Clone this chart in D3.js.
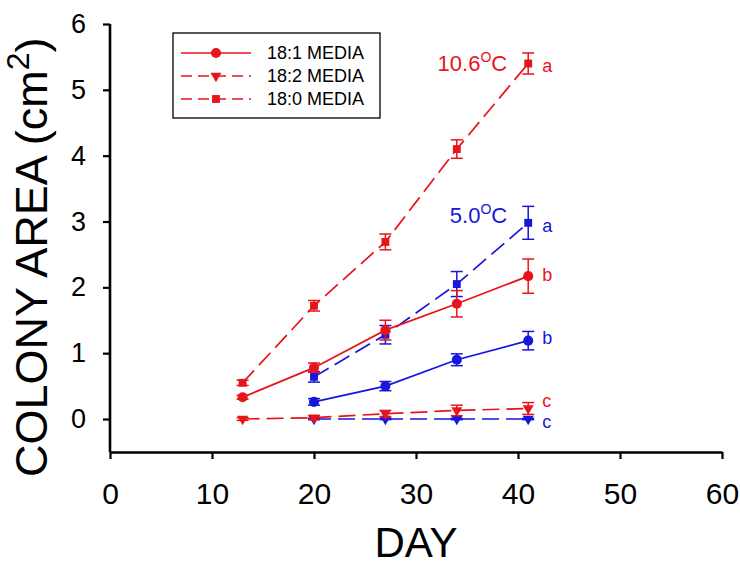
<!DOCTYPE html>
<html lang="en">
<head>
<meta charset="UTF-8">
<title>Colony area</title>
<script src="https://d3js.org/d3.v7.min.js"></script>
<style>
body {
  margin: 0;
  background: white;
}
svg {
  display: block;
  font-family: "Liberation Sans", Arial, sans-serif;
}
</style>
</head>
<body>
<svg></svg>
<script>
// day of measurement
const hotDays = [13, 20, 27, 34, 41];
const coldDays = [20, 27, 34, 41];

// 10.6 C colonies (mean, error)
const hot18_1 = [0.33, 0.78, 1.35, 1.75, 2.17];
const hot18_1Err = [0.03, 0.07, 0.15, 0.20, 0.26];
const hot18_2 = [0.00, 0.02, 0.08, 0.13, 0.16];
const hot18_2Err = [0.02, 0.03, 0.05, 0.08, 0.09];
const hot18_0 = [0.55, 1.72, 2.69, 4.10, 5.40];
const hot18_0Err = [0.04, 0.08, 0.12, 0.14, 0.16];

// 5.0 C colonies
const cold18_1 = [0.26, 0.50, 0.90, 1.19];
const cold18_1Err = [0.05, 0.07, 0.09, 0.14];
const cold18_2 = [0.00, 0.00, 0.00, 0.00];
const cold18_2Err = [0.01, 0.01, 0.01, 0.01];
const cold18_0 = [0.64, 1.28, 2.05, 2.98];
const cold18_0Err = [0.08, 0.14, 0.19, 0.25];

const legendLabels = ["18:1 MEDIA", "18:2 MEDIA", "18:0 MEDIA"];
const xTicks = [0, 10, 20, 30, 40, 50, 60];
const yTicks = [0, 1, 2, 3, 4, 5, 6];

const red = "#e8141b";
const blue = "#1616dc";

let width = 740;
let height = 568;

let svg = d3.select("svg")
  .attr("width", width)
  .attr("height", height);

let x = d3.scaleLinear().domain([0, 60]).range([110, 722]);
let y = d3.scaleLinear().domain([0, 6]).range([419, 24]);
let axisY = 452;

// axes
let xAxis = svg.append("g")
  .attr("transform", "translate(0," + axisY + ")")
  .call(d3.axisBottom(x).tickValues(xTicks).tickSize(7).tickSizeOuter(0).tickPadding(24));
xAxis.select(".domain").attr("stroke-width", 2.6);
xAxis.selectAll(".tick line").attr("stroke-width", 2.2);
xAxis.selectAll(".tick text").attr("font-size", 30).attr("font-family", null);

let yAxis = svg.append("g")
  .attr("transform", "translate(" + x(0) + ",0)")
  .call(d3.axisLeft(y).tickValues(yTicks).tickFormat(d3.format("d")).tickSize(7).tickSizeOuter(0).tickPadding(17));
yAxis.select(".domain").remove();
yAxis.append("line")
  .attr("x1", 0).attr("x2", 0)
  .attr("y1", y(6)).attr("y2", axisY)
  .attr("stroke", "black")
  .attr("stroke-width", 2.6);
yAxis.selectAll(".tick line").attr("stroke-width", 2.2);
yAxis.selectAll(".tick text").attr("font-size", 27).attr("font-family", null);

// axis titles
svg.append("text")
  .attr("x", (x(0) + x(60)) / 2)
  .attr("y", 557)
  .attr("text-anchor", "middle")
  .attr("font-size", 42)
  .text("DAY");

let yTitle = svg.append("text")
  .attr("transform", "translate(47,477) rotate(-90)")
  .attr("font-size", 45);
yTitle.append("tspan").text("COLONY AREA (cm");
yTitle.append("tspan").attr("font-size", 32).attr("dy", -18).text("2");
yTitle.append("tspan").attr("dy", 18).text(")");

// markers
let symbols = {
  circle: d3.symbol().type(d3.symbolCircle).size(80),
  square: d3.symbol().type(d3.symbolSquare).size(62),
  triangle: d3.symbol().type(d3.symbolTriangle).size(52)
};

function drawSeries(days, values, errs, color, shape, dashed, letter, letterDy) {
  let g = svg.append("g");
  let pts = days.map((d, i) => ({day: d, v: values[i], e: errs[i]}));

  g.append("path")
    .attr("d", d3.line().x(d => x(d.day)).y(d => y(d.v))(pts))
    .attr("fill", "none")
    .attr("stroke", color)
    .attr("stroke-width", 1.7)
    .attr("stroke-dasharray", dashed ? "17,7" : null);

  let bars = g.selectAll(".err").data(pts).enter().append("g");
  bars.append("line")
    .attr("x1", d => x(d.day)).attr("x2", d => x(d.day))
    .attr("y1", d => y(d.v + d.e)).attr("y2", d => y(d.v - d.e))
    .attr("stroke", color).attr("stroke-width", 1.5);
  bars.append("line")
    .attr("x1", d => x(d.day) - 6).attr("x2", d => x(d.day) + 6)
    .attr("y1", d => y(d.v + d.e)).attr("y2", d => y(d.v + d.e))
    .attr("stroke", color).attr("stroke-width", 1.5);
  bars.append("line")
    .attr("x1", d => x(d.day) - 6).attr("x2", d => x(d.day) + 6)
    .attr("y1", d => y(d.v - d.e)).attr("y2", d => y(d.v - d.e))
    .attr("stroke", color).attr("stroke-width", 1.5);

  g.selectAll(".pt").data(pts).enter().append("path")
    .attr("d", symbols[shape])
    .attr("transform", d => "translate(" + x(d.day) + "," + y(d.v) + ")" + (shape == "triangle" ? " rotate(180)" : ""))
    .attr("fill", color);

  let last = pts[pts.length - 1];
  g.append("text")
    .attr("x", x(last.day) + 14)
    .attr("y", y(last.v) + letterDy)
    .attr("font-size", 18)
    .attr("fill", color)
    .text(letter);
}

drawSeries(coldDays, cold18_2, cold18_2Err, blue, "triangle", true, "c", 9);
drawSeries(coldDays, cold18_1, cold18_1Err, blue, "circle", false, "b", 3);
drawSeries(coldDays, cold18_0, cold18_0Err, blue, "square", true, "a", 9);
drawSeries(hotDays, hot18_2, hot18_2Err, red, "triangle", true, "c", -1);
drawSeries(hotDays, hot18_1, hot18_1Err, red, "circle", false, "b", 5);
drawSeries(hotDays, hot18_0, hot18_0Err, red, "square", true, "a", 8);

// temperature labels
function tempLabel(txt, val, color) {
  let t = svg.append("text")
    .attr("x", x(41) - 21)
    .attr("y", y(val))
    .attr("text-anchor", "end")
    .attr("font-size", 22)
    .attr("fill", color);
  t.append("tspan").text(txt);
  t.append("tspan").attr("font-size", 14).attr("dy", -9).text("O");
  t.append("tspan").attr("dy", 9).text("C");
}
tempLabel("10.6", 5.29, red);
tempLabel("5.0", 2.98, blue);

// legend
let legend = svg.append("g");
legend.append("rect")
  .attr("x", 173).attr("y", 33)
  .attr("width", 207).attr("height", 85)
  .attr("fill", "white")
  .attr("stroke", "black")
  .attr("stroke-width", 1.3);

let legendShapes = ["circle", "triangle", "square"];
let legendDash = [null, "11,6", "11,6"];
legendLabels.forEach((lab, i) => {
  let ly = 53 + i * 23;
  legend.append("line")
    .attr("x1", 181).attr("x2", 251)
    .attr("y1", ly).attr("y2", ly)
    .attr("stroke", red)
    .attr("stroke-width", 1.7)
    .attr("stroke-dasharray", legendDash[i]);
  legend.append("path")
    .attr("d", symbols[legendShapes[i]])
    .attr("transform", "translate(216," + ly + ")" + (legendShapes[i] == "triangle" ? " rotate(180)" : ""))
    .attr("fill", red);
  legend.append("text")
    .attr("x", 267)
    .attr("y", ly + 6)
    .attr("font-size", 18)
    .text(lab);
});
</script>
</body>
</html>
